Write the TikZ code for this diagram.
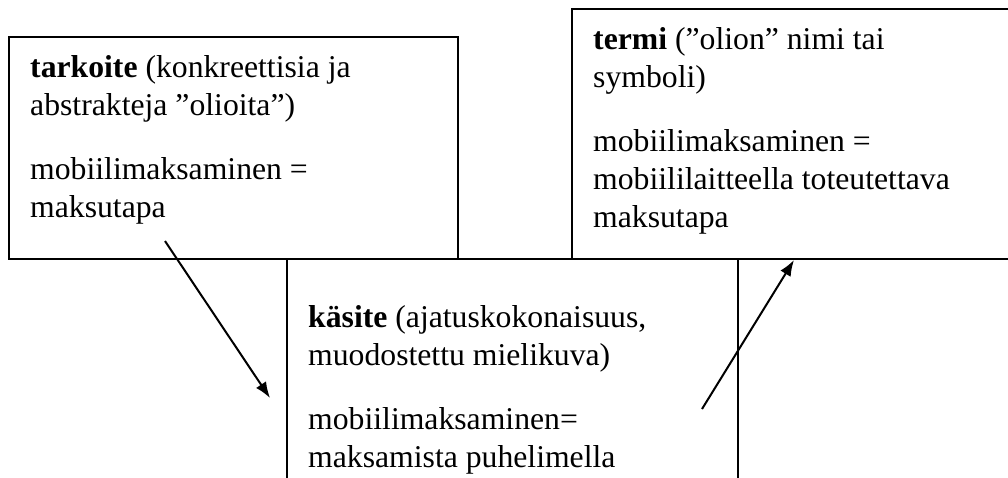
\documentclass[tikz,border=0pt]{standalone}
\usepackage{fontspec}
\setmainfont{Liberation Serif}
\usetikzlibrary{arrows.meta}
\tikzset{
  boxline/.style={draw=black, line width=1.3pt},
  boxtext/.style={anchor=base west, inner sep=0pt, align=left,
    font=\fontsize{31.7}{38}\selectfont},
  conn/.style={line width=2pt, -{Latex[length=16pt,width=12pt]}},
}
\begin{document}
\begin{tikzpicture}[x=1pt,y=-1pt]
\useasboundingbox (0,0) rectangle (1008,477);
\clip (0,0) rectangle (1008,477);
% boxes
\draw[boxline] (287,259) rectangle (738,490);
\draw[boxline] (9,37) rectangle (458,259);
\draw[boxline] (572,9) rectangle (1020,259);
% texts (anchored at the baseline of the last line)
\node[boxtext] (tarkoite) at (30,217)
  {\textbf{tarkoite} (konkreettisia ja\\abstrakteja ”olioita”)\\[26pt]mobiilimaksaminen =\\maksutapa};
\node[boxtext] (termi) at (593,227)
  {\textbf{termi} (”olion” nimi tai\\symboli)\\[26pt]mobiilimaksaminen =\\mobiililaitteella toteutettava\\maksutapa};
\node[boxtext] (kasite) at (308,467)
  {\textbf{käsite} (ajatuskokonaisuus,\\muodostettu mielikuva)\\[26pt]mobiilimaksaminen=\\maksamista puhelimella};
% connectors
\coordinate (a1s) at (165,241);
\coordinate (a1e) at (270,398);
\coordinate (a2s) at (702,409);
\coordinate (a2e) at (794,260);
\draw[conn] (a1s) -- (a1e);
\draw[conn] (a2s) -- (a2e);
\end{tikzpicture}
\end{document}
